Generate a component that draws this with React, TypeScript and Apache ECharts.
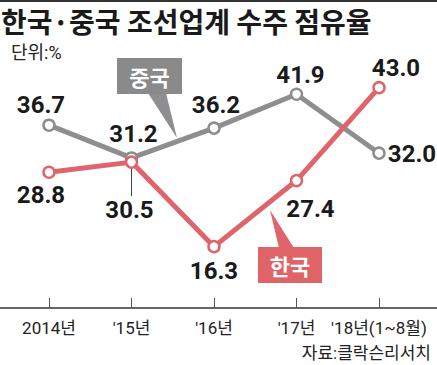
import React, { useEffect, useRef } from "react";
import * as echarts from "echarts";

const categories = ["2014년", "'15년", "'16년", "'17년", "'18년(1~8월)"];
const chinaShare = [36.7, 31.2, 36.2, 41.9, 32.0];
const koreaShare = [28.8, 30.5, 16.3, 27.4, 43.0];

const chinaLabelOffsets = [[-8, -20], [2, -24], [2, -23], [4, -19], [33, 1]];
const koreaLabelOffsets = [[-8, 23], [-2, 48], [0, 24], [14, 28], [17, -20]];

const GRAY = "#8e8e90";
const RED = "#e0646b";
const NUM_FONT = "Roboto,'Noto Sans',sans-serif";
const KR_FONT = "Roboto,'Noto Sans CJK KR',sans-serif";

function makeData(values: number[], offsets: number[][]) {
  return values.map((v, i) => ({
    value: v,
    label: { offset: offsets[i] },
  }));
}

export default function App() {
  const ref = useRef<HTMLDivElement>(null);
  useEffect(() => {
    if (!ref.current) return;
    const chart = echarts.init(ref.current, null, { renderer: "svg" });
    const labelStyle = {
      show: true,
      position: "inside",
      formatter: (p: any) => Number(p.value).toFixed(1),
      fontFamily: NUM_FONT,
      fontSize: 24,
      fontWeight: "bold",
      color: "#1a1a1a",
    };
    chart.setOption({
      animation: false,
      backgroundColor: "#ffffff",
      title: {
        text: "한국·중국 조선업계 수주 점유율",
        left: 1,
        top: 6,
        padding: 0,
        textStyle: {
          fontFamily: "'Noto Sans CJK KR',sans-serif",
          fontSize: 28,
          lineHeight: 30,
          fontWeight: "bold",
          color: "#1a1a1a",
        },
      },
      grid: { left: 7.75, right: 16.75, top: 46, bottom: 57 },
      xAxis: {
        type: "category",
        data: categories,
        boundaryGap: true,
        axisLine: { show: false },
        axisTick: {
          show: true,
          inside: true,
          length: 10,
          alignWithLabel: true,
          lineStyle: { color: "#555", width: 1 },
        },
        axisLabel: {
          margin: 11,
          fontFamily: KR_FONT,
          fontSize: 17,
          color: "#222",
          interval: 0,
        },
      },
      yAxis: {
        type: "value",
        min: 6,
        max: 50,
        show: false,
        splitLine: { show: false },
      },
      series: [
        {
          name: "중국",
          type: "line",
          data: makeData(chinaShare, chinaLabelOffsets),
          symbol: "circle",
          symbolSize: 11,
          lineStyle: { color: GRAY, width: 5 },
          itemStyle: { color: "#fff", borderColor: GRAY, borderWidth: 2.5 },
          label: labelStyle,
          z: 2,
        },
        {
          name: "한국",
          type: "line",
          data: makeData(koreaShare, koreaLabelOffsets),
          symbol: "circle",
          symbolSize: 11,
          lineStyle: { color: RED, width: 5 },
          itemStyle: { color: "#fff", borderColor: RED, borderWidth: 2.5 },
          label: labelStyle,
          z: 3,
        },
      ],
    });

    const p15 = chart.convertToPixel({ seriesIndex: 1 }, [1, koreaShare[1]]) as number[];
    const axisY = chart.convertToPixel({ yAxisIndex: 0 }, 6) as number;

    chart.setOption({
      graphic: [
        { type: "rect", shape: { x: 0, y: 0, width: 437, height: 2 }, style: { fill: "#333" } },
        {
          type: "text",
          left: 11,
          top: 43,
          style: { text: "단위:%", fontFamily: KR_FONT, fontSize: 18, fill: "#222" },
        },
        {
          type: "line",
          shape: { x1: 0, y1: axisY, x2: 437, y2: axisY },
          style: { stroke: "#333", lineWidth: 1.5 },
        },
        {
          type: "line",
          shape: { x1: p15[0], y1: p15[1] + 5, x2: p15[0], y2: p15[1] + 34 },
          style: { stroke: "#444", lineWidth: 1 },
          z: 1,
        },
        {
          type: "polygon",
          shape: { points: [[148, 93], [166, 93], [177, 138]] },
          style: { fill: GRAY },
        },
        {
          type: "rect",
          shape: { x: 117, y: 58, width: 65, height: 36 },
          style: { fill: "#8a8a8a" },
        },
        {
          type: "text",
          x: 149.5,
          y: 76,
          style: {
            text: "중국",
            fontFamily: "'Noto Sans CJK KR',sans-serif",
            fontSize: 22,
            fontWeight: "bold",
            fill: "#fff",
            align: "center",
            verticalAlign: "middle",
          },
        },
        {
          type: "polygon",
          shape: { points: [[270, 210], [279, 248], [294, 248]] },
          style: { fill: RED },
        },
        {
          type: "rect",
          shape: { x: 258, y: 247, width: 64, height: 36 },
          style: { fill: "#df6468" },
        },
        {
          type: "text",
          x: 290,
          y: 265,
          style: {
            text: "한국",
            fontFamily: "'Noto Sans CJK KR',sans-serif",
            fontSize: 22,
            fontWeight: "bold",
            fill: "#fff",
            align: "center",
            verticalAlign: "middle",
          },
        },
        {
          type: "text",
          right: 6,
          top: 344,
          style: { text: "자료:클락슨리서치", fontFamily: KR_FONT, fontSize: 17, fill: "#222" },
        },
      ],
    });
    return () => chart.dispose();
  }, []);
  return (
    <div
      ref={ref}
      style={{ position: "fixed", left: 0, top: 0, width: 437, height: 365, background: "#fff" }}
    />
  );
}
